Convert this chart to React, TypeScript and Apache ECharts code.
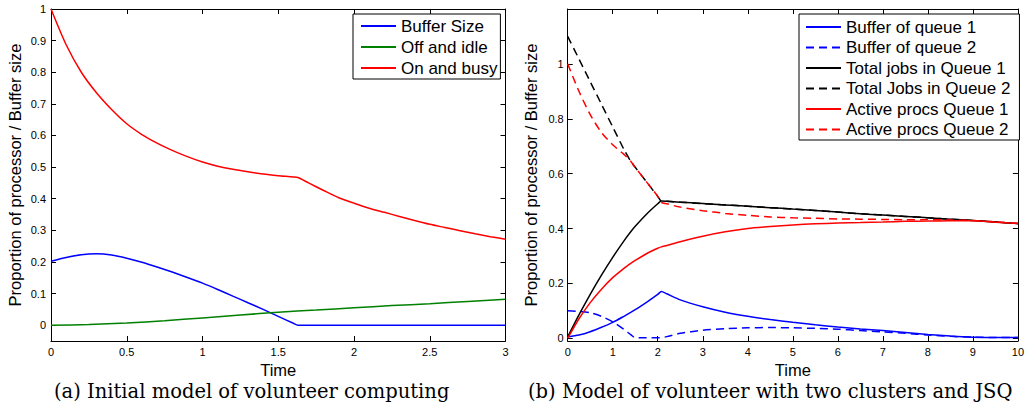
import React, { useEffect, useRef } from "react";
import * as echarts from "echarts";

// ---------- Panel (a) data ----------
const timeA = [0, 0.1, 0.2, 0.3, 0.4, 0.5, 0.6, 0.7, 0.8, 0.9, 1.0, 1.1, 1.2, 1.3, 1.4, 1.5, 1.6, 1.63, 1.7, 1.8, 1.9, 2.0, 2.1, 2.2, 2.3, 2.4, 2.5, 2.6, 2.7, 2.8, 2.9, 3.0];
const bufferSizeA = [0.202, 0.214, 0.223, 0.226, 0.222, 0.212, 0.199, 0.184, 0.168, 0.151, 0.133, 0.113, 0.092, 0.071, 0.05, 0.028, 0.006, 0.0, 0, 0, 0, 0, 0, 0, 0, 0, 0, 0, 0, 0, 0, 0];
const onBusyA = [1.0, 0.887, 0.8, 0.735, 0.682, 0.637, 0.603, 0.576, 0.553, 0.533, 0.516, 0.503, 0.493, 0.485, 0.478, 0.473, 0.469, 0.467, 0.45, 0.426, 0.403, 0.386, 0.37, 0.357, 0.344, 0.331, 0.319, 0.309, 0.299, 0.289, 0.28, 0.272];
const timeIdle = [0, 0.25, 0.5, 0.75, 1.0, 1.25, 1.5, 1.75, 2.0, 2.25, 2.5, 2.75, 3.0];
const offIdleA = [0, 0.002, 0.007, 0.014, 0.023, 0.032, 0.041, 0.048, 0.055, 0.062, 0.068, 0.075, 0.082];
const yTicksA = [0, 0.1, 0.2, 0.3, 0.4, 0.5, 0.6, 0.7, 0.8, 0.9, 1];

// ---------- Panel (b) data ----------
const timeB = [0, 0.25, 0.5, 0.75, 1, 1.25, 1.4, 1.5, 1.75, 2, 2.08, 2.2, 2.5, 3, 3.5, 4, 4.5, 5, 5.5, 6, 6.5, 7, 7.5, 8, 8.5, 9, 9.5, 10];
const buffer1 = [0.005, 0.012, 0.024, 0.04, 0.058, 0.08, 0.094, 0.104, 0.131, 0.16, 0.17, 0.162, 0.14, 0.115, 0.095, 0.08, 0.068, 0.058, 0.049, 0.041, 0.034, 0.028, 0.021, 0.014, 0.008, 0.004, 0.003, 0.003];
const buffer2 = [0.1, 0.098, 0.093, 0.08, 0.06, 0.032, 0.013, 0.002, 0.002, 0.002, 0.002, 0.006, 0.018, 0.029, 0.035, 0.038, 0.039, 0.038, 0.036, 0.033, 0.028, 0.023, 0.018, 0.012, 0.007, 0.004, 0.003, 0.003];
const total1 = [0.005, 0.085, 0.16, 0.23, 0.295, 0.355, 0.388, 0.408, 0.452, 0.49, 0.5, 0.499, 0.496, 0.491, 0.486, 0.481, 0.476, 0.471, 0.466, 0.46, 0.454, 0.449, 0.444, 0.439, 0.434, 0.429, 0.424, 0.418];
const total2 = [1.1, 1.018, 0.935, 0.853, 0.77, 0.688, 0.645, 0.623, 0.57, 0.517, 0.5, 0.499, 0.496, 0.491, 0.486, 0.481, 0.476, 0.471, 0.466, 0.46, 0.454, 0.449, 0.444, 0.439, 0.434, 0.429, 0.424, 0.418];
const active1 = [0, 0.071, 0.13, 0.179, 0.221, 0.255, 0.273, 0.284, 0.308, 0.328, 0.333, 0.338, 0.352, 0.372, 0.388, 0.4, 0.407, 0.413, 0.417, 0.42, 0.422, 0.424, 0.426, 0.427, 0.428, 0.428, 0.423, 0.418];
const active2 = [1.0, 0.9, 0.815, 0.75, 0.705, 0.67, 0.645, 0.623, 0.57, 0.517, 0.495, 0.49, 0.478, 0.465, 0.455, 0.448, 0.442, 0.439, 0.437, 0.435, 0.434, 0.433, 0.432, 0.432, 0.431, 0.429, 0.424, 0.418];
const yTicksB = [0, 0.2, 0.4, 0.6, 0.8, 1];

const SANS = "'Liberation Sans', Arial, sans-serif";
const SERIF = "'DejaVu Serif', serif";

const pairs = (xs: number[], ys: number[]) => xs.map((x, i) => [x, ys[i]]);

function lineSeries(name: string, xs: number[], ys: number[], color: string, idx: number, dashed = false) {
  return {
    name,
    type: "line",
    xAxisIndex: idx,
    yAxisIndex: idx,
    data: pairs(xs, ys),
    symbol: "none",
    showSymbol: false,
    smooth: 0.25,
    lineStyle: { color, width: 1.5, type: dashed ? [8, 5] : "solid" },
    itemStyle: { color, opacity: 0 },
    emphasis: { disabled: true },
  };
}

function axisCommon(showLabel: boolean) {
  return {
    axisLine: { show: true, onZero: false, lineStyle: { color: "#000", width: 1 } },
    axisTick: { show: true, inside: true, length: 5, lineStyle: { color: "#000", width: 1 } },
    splitLine: { show: false },
    axisLabel: { show: showLabel, color: "#000", fontSize: 11, fontFamily: SANS },
  };
}

export default function App() {
  const ref = useRef<HTMLDivElement>(null);
  useEffect(() => {
    if (!ref.current) return;
    const chart = echarts.init(ref.current, null, { renderer: "svg" });
    const gridA = { left: 51, top: 9, width: 454.5, height: 332 };
    const gridB = { left: 567.7, top: 9, width: 451.3, height: 332 };
    const nameStyle = { color: "#000", fontSize: 16.5, fontFamily: SANS };
    const legendText = { color: "#000", fontSize: 17, fontFamily: SANS, lineHeight: 17 };

    chart.setOption({
      animation: false,
      backgroundColor: "#fff",
      grid: [
        { ...gridA, containLabel: false },
        { ...gridB, containLabel: false },
      ],
      xAxis: [
        {
          ...axisCommon(true), type: "value", gridIndex: 0, position: "bottom", min: 0, max: 3, interval: 0.5,
          name: "Time", nameLocation: "middle", nameGap: 17, nameTextStyle: nameStyle,
          axisLabel: { ...axisCommon(true).axisLabel, margin: 5 },
        },
        { ...axisCommon(false), type: "value", gridIndex: 0, position: "top", min: 0, max: 3, interval: 0.5 },
        {
          ...axisCommon(true), type: "value", gridIndex: 1, position: "bottom", min: 0, max: 10, interval: 1,
          name: "Time", nameLocation: "middle", nameGap: 17, nameTextStyle: nameStyle,
          axisLabel: { ...axisCommon(true).axisLabel, margin: 5 },
        },
        { ...axisCommon(false), type: "value", gridIndex: 1, position: "top", min: 0, max: 10, interval: 1 },
      ],
      yAxis: [
        {
          ...axisCommon(true), type: "value", gridIndex: 0, position: "left", min: -0.05, max: 1,
          name: "Proportion of processor / Buffer size", nameLocation: "middle", nameGap: 28, nameTextStyle: nameStyle,
          axisTick: { ...axisCommon(true).axisTick, customValues: yTicksA },
          axisLabel: { ...axisCommon(true).axisLabel, margin: 5, customValues: yTicksA },
        },
        {
          ...axisCommon(false), type: "value", gridIndex: 0, position: "right", min: -0.05, max: 1,
          axisTick: { ...axisCommon(false).axisTick, customValues: yTicksA },
          axisLabel: { show: false, customValues: yTicksA },
        },
        {
          ...axisCommon(true), type: "value", gridIndex: 1, position: "left", min: -0.01, max: 1.2,
          name: "Proportion of processor / Buffer size", nameLocation: "middle", nameGap: 28, nameTextStyle: nameStyle,
          axisTick: { ...axisCommon(true).axisTick, customValues: yTicksB },
          axisLabel: { ...axisCommon(true).axisLabel, margin: 4, customValues: yTicksB },
        },
        {
          ...axisCommon(false), type: "value", gridIndex: 1, position: "right", min: -0.01, max: 1.2,
          axisTick: { ...axisCommon(false).axisTick, customValues: yTicksB },
          axisLabel: { show: false, customValues: yTicksB },
        },
      ],
      legend: [
        {
          data: ["Buffer Size", "Off and idle", "On and busy"],
          orient: "vertical", left: 353, top: 14,
          padding: [3.5, 3, 2.5, 7], itemGap: 4, itemWidth: 35, itemHeight: 14,
          backgroundColor: "#fff", borderColor: "#000", borderWidth: 1, borderRadius: 0,
          selectedMode: false, textStyle: legendText, itemStyle: { opacity: 0 },
        },
        {
          data: ["Buffer of queue 1", "Buffer of queue 2", "Total jobs in Queue 1", "Total Jobs in Queue 2", "Active procs Queue 1", "Active procs Queue 2"],
          orient: "vertical", left: 799, top: 14,
          padding: [4.5, 9, 2, 6], itemGap: 3.5, itemWidth: 35, itemHeight: 14,
          backgroundColor: "#fff", borderColor: "#000", borderWidth: 1, borderRadius: 0,
          selectedMode: false, textStyle: legendText, itemStyle: { opacity: 0 },
        },
      ],
      series: [
        lineSeries("Buffer Size", timeA, bufferSizeA, "#0000ff", 0),
        lineSeries("Off and idle", timeIdle, offIdleA, "#008000", 0),
        lineSeries("On and busy", timeA, onBusyA, "#ff0000", 0),
        lineSeries("Buffer of queue 1", timeB, buffer1, "#0000ff", 2),
        lineSeries("Buffer of queue 2", timeB, buffer2, "#0000ff", 2, true),
        lineSeries("Total jobs in Queue 1", timeB, total1, "#000000", 2),
        lineSeries("Total Jobs in Queue 2", timeB, total2, "#000000", 2, true),
        lineSeries("Active procs Queue 1", timeB, active1, "#ff0000", 2),
        lineSeries("Active procs Queue 2", timeB, active2, "#ff0000", 2, true),
      ],
      graphic: [
        {
          type: "text", left: 54, top: 381, z: 10,
          style: { text: "(a) Initial model of volunteer computing", x: 0, y: 0, fill: "#000", font: `19.5px ${SERIF}` },
        },
        {
          type: "text", left: 528, top: 381, z: 10,
          style: { text: "(b) Model of volunteer with two clusters and JSQ", x: 0, y: 0, fill: "#000", font: `19.5px ${SERIF}` },
        },
      ],
    });
    return () => chart.dispose();
  }, []);
  return <div ref={ref} style={{ position: "fixed", left: 0, top: 0, width: 1027, height: 406 }} />;
}
